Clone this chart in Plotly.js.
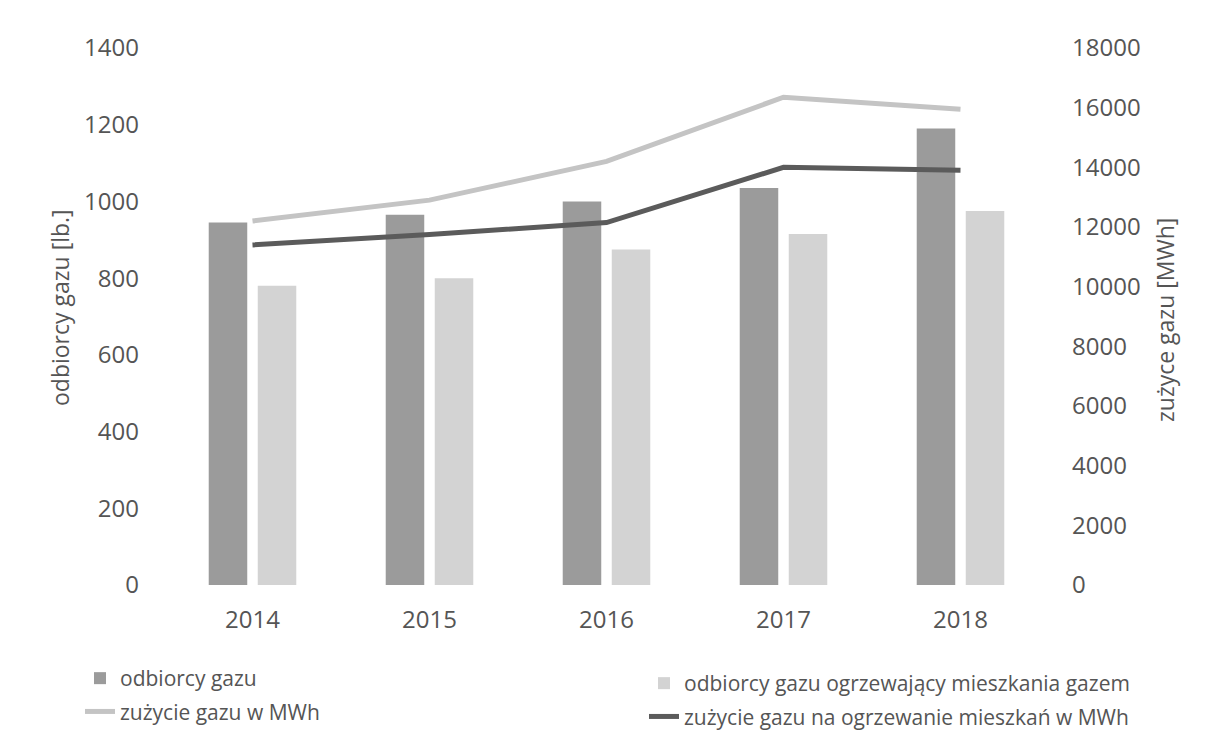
<!DOCTYPE html>
<html>
<head>
<meta charset="utf-8">
<script src="https://cdn.plot.ly/plotly-3.0.1.min.js"></script>
<style>html,body{margin:0;padding:0;background:#fff;}#chart{width:1208px;height:730px;}</style>
</head>
<body>
<div id="chart"></div>
<script>
const years = ['2014', '2015', '2016', '2017', '2018'];
const odbiorcyGazu = [945, 965, 1000, 1035, 1190];
const odbiorcyOgrzewajacy = [780, 800, 875, 915, 975];
const zuzycieGazu = [12200, 12900, 14200, 16350, 15950];
const zuzycieOgrzewanie = [11400, 11750, 12150, 14000, 13900];

const leftTicks = [0, 200, 400, 600, 800, 1000, 1200, 1400];
const rightTicks = [0, 2000, 4000, 6000, 8000, 10000, 12000, 14000, 16000, 18000];
const leftTitle = 'odbiorcy gazu [lb.]';
const rightTitle = 'zużyce gazu [MWh]';

const FONT = "'Open Sans', 'Noto Sans', sans-serif";
const TXT = '#555555';

const traces = [
  {type: 'bar', name: 'odbiorcy gazu', x: years, y: odbiorcyGazu,
   marker: {color: '#9b9b9b'}, yaxis: 'y', legend: 'legend', legendgroup: 'a'},
  {type: 'bar', name: 'odbiorcy gazu ogrzewający mieszkania gazem', x: years, y: odbiorcyOgrzewajacy,
   marker: {color: '#d3d3d3'}, yaxis: 'y', legend: 'legend2', legendgroup: 'b'},
  {type: 'scatter', mode: 'lines', name: 'zużycie gazu w MWh', x: years, y: zuzycieGazu,
   line: {color: '#c4c4c4', width: 5}, yaxis: 'y2', legend: 'legend', legendgroup: 'c'},
  {type: 'scatter', mode: 'lines', name: 'zużycie gazu na ogrzewanie mieszkań w MWh', x: years, y: zuzycieOgrzewanie,
   line: {color: '#5b5b5b', width: 5}, yaxis: 'y2', legend: 'legend2', legendgroup: 'd'}
];

const legendBase = {
  orientation: 'v', xref: 'container', yref: 'container',
  xanchor: 'left', yanchor: 'top',
  font: {family: FONT, size: 21, color: TXT},
  bgcolor: 'rgba(0,0,0,0)', traceorder: 'grouped', tracegroupgap: 3
};

const ml = 164, mr = 159, mt = 48, mb = 145, W = 1208, H = 730;
const pw = W - ml - mr, ph = H - mt - mb;

const layout = {
  width: W, height: H,
  margin: {l: ml, r: mr, t: mt, b: mb, autoexpand: false},
  paper_bgcolor: '#ffffff', plot_bgcolor: '#ffffff',
  font: {family: FONT, color: TXT, size: 21},
  barmode: 'group', bargap: 0.446, bargroupgap: 0.214,
  showlegend: true,
  legend: Object.assign({}, legendBase, {x: 80 / W, y: 1 - 658 / H}),
  legend2: Object.assign({}, legendBase, {x: 644 / W, y: 1 - 663 / H}),
  xaxis: {
    type: 'category', showgrid: false, zeroline: false, showline: false,
    ticks: '', tickfont: {family: FONT, size: 24, color: TXT},
    ticklabelstandoff: 18
  },
  yaxis: {
    range: [0, 1400], tickvals: leftTicks, showgrid: false, zeroline: false, showline: false,
    ticks: '', tickfont: {family: FONT, size: 24, color: TXT}, ticklabelstandoff: 24
  },
  yaxis2: {
    range: [0, 18000], tickvals: rightTicks, tickformat: 'd', overlaying: 'y', side: 'right',
    showgrid: false, zeroline: false, showline: false,
    ticks: '', tickfont: {family: FONT, size: 24, color: TXT}, ticklabelstandoff: 22
  },
  annotations: [
    {text: leftTitle, xref: 'paper', yref: 'paper', x: (60 - ml) / pw, y: (H - mb - 308) / ph,
     xanchor: 'center', yanchor: 'middle', textangle: -90, showarrow: false,
     font: {family: FONT, size: 23, color: TXT}},
    {text: rightTitle, xref: 'paper', yref: 'paper', x: (1165 - ml) / pw, y: (H - mb - 320) / ph,
     xanchor: 'center', yanchor: 'middle', textangle: -90, showarrow: false,
     font: {family: FONT, size: 23, color: TXT}}
  ]
};

Plotly.newPlot('chart', traces, layout, {staticPlot: true, displayModeBar: false});
</script>
</body>
</html>
